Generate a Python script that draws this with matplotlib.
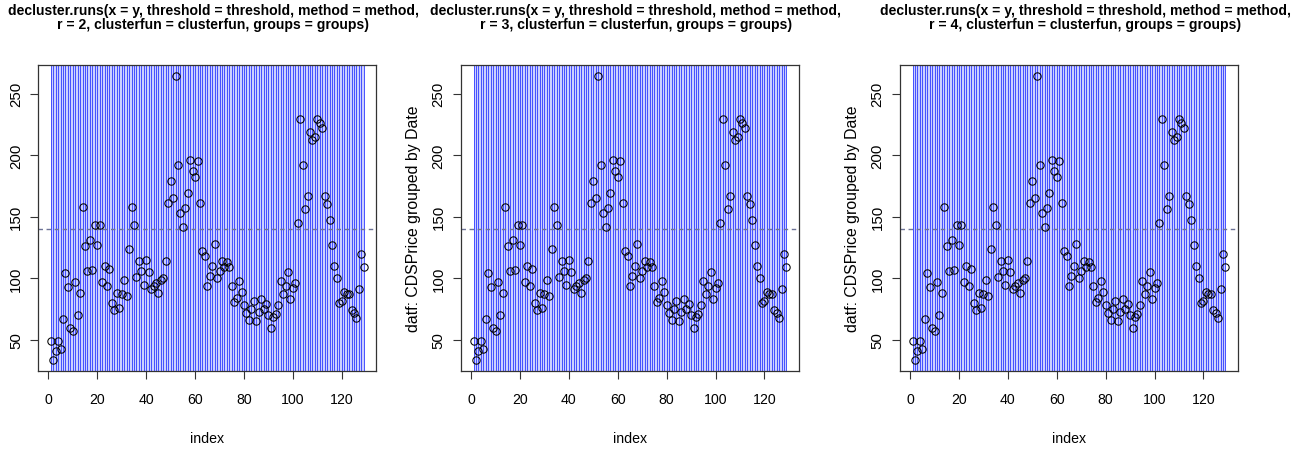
import numpy as np
import matplotlib
matplotlib.use("Agg")
import matplotlib.pyplot as plt

# ---- data ----
index = list(range(1, 130))
cds_price = [49, 34, 41, 49, 43, 67, 104, 93, 60, 57,
             97, 70, 88, 158, 126, 106, 131, 107, 143, 127,
             143, 97, 110, 94, 108, 80, 74, 88, 76, 87,
             99, 86, 124, 158, 143, 101, 114, 106, 95, 115,
             105, 91, 94, 96, 88, 99, 100, 114, 161, 179,
             165, 264, 192, 153, 142, 157, 169, 196, 187, 182,
             195, 161, 122, 118, 94, 102, 110, 128, 100, 106,
             114, 109, 113, 109, 94, 81, 84, 98, 89, 78,
             72, 66, 75, 82, 65, 73, 83, 75, 79, 70,
             60, 69, 71, 78, 98, 87, 94, 105, 83, 92,
             96, 145, 229, 192, 156, 167, 219, 212, 215, 229,
             226, 222, 167, 160, 147, 127, 110, 100, 80, 82,
             89, 87, 87, 74, 72, 68, 91, 120, 109]
threshold = 140
r_values = [2, 3, 4]
x_ticks = [0, 20, 40, 60, 80, 100, 120]
y_ticks = [50, 100, 150, 200, 250]
ylabel_text = "datf: CDSPrice grouped by Date"
xlabel_text = "index"
title_tmpl = "decluster.runs(x = y, threshold = threshold, method = method,\nr = {r}, clusterfun = clusterfun, groups = groups)"

W, H = 1307, 452
fig = plt.figure(figsize=(W / 100, H / 100), dpi=100)

font = ["Liberation Sans", "DejaVu Sans"]

lefts = [38.3, 461, 900]
title_shift = [6, 6, 16]
ax_w = 338
top_px, bot_px = 66, 372

x = np.array(index)
y = np.array(cds_price)
xr = x.max() - x.min()
yr = y.max() - y.min()

for k, (lp, r) in enumerate(zip(lefts, r_values)):
    ax = fig.add_axes([lp / W, (H - bot_px) / H, ax_w / W, (bot_px - top_px) / H])
    ax.set_xlim(x.min() - 0.04 * xr, x.max() + 0.04 * xr)
    ax.set_ylim(y.min() - 0.04 * yr, y.max() + 0.04 * yr)
    ax.axvspan(x.min(), x.max(), color="#ccd0ff", lw=0, zorder=0)
    ax.vlines(x, 0, 1, transform=ax.get_xaxis_transform(), colors="#3a46ff",
              lw=0.65, zorder=1)
    ax.axhline(threshold, color="#6d7396", lw=1.0, ls=(0, (3.2, 2.6)), zorder=2)
    ax.plot(x, y, ls="none", marker="o", ms=5.3, mfc="none", mec="black",
            mew=0.75, zorder=3)
    for s in ax.spines.values():
        s.set_linewidth(0.9)
        s.set_color("#333333")
    ax.set_xticks(x_ticks)
    ax.set_yticks(y_ticks)
    ax.tick_params(direction="out", length=6, width=0.8, color="#333333")
    ax.set_xticklabels([str(v) for v in x_ticks], family=font, fontsize=10.2)
    ax.set_yticklabels([str(v) for v in y_ticks], family=font, fontsize=10.8,
                       rotation=90, va="center")
    ax.tick_params(axis="x", pad=9)
    ax.tick_params(axis="y", pad=5)
    ax.set_xlabel(xlabel_text, family=font, fontsize=10.2, labelpad=18)
    if k > 0:
        ax.set_ylabel(ylabel_text, family=font, fontsize=11.4, labelpad=8)
    ax.text(0.5 + title_shift[k] / ax_w, 1.0 + 34 / (bot_px - top_px),
            title_tmpl.format(r=r),
            transform=ax.transAxes, ha="center", va="bottom",
            family=font, fontweight="bold", fontsize=10.1, linespacing=1.0)

fig.savefig("out.png", dpi=100, facecolor="white")
